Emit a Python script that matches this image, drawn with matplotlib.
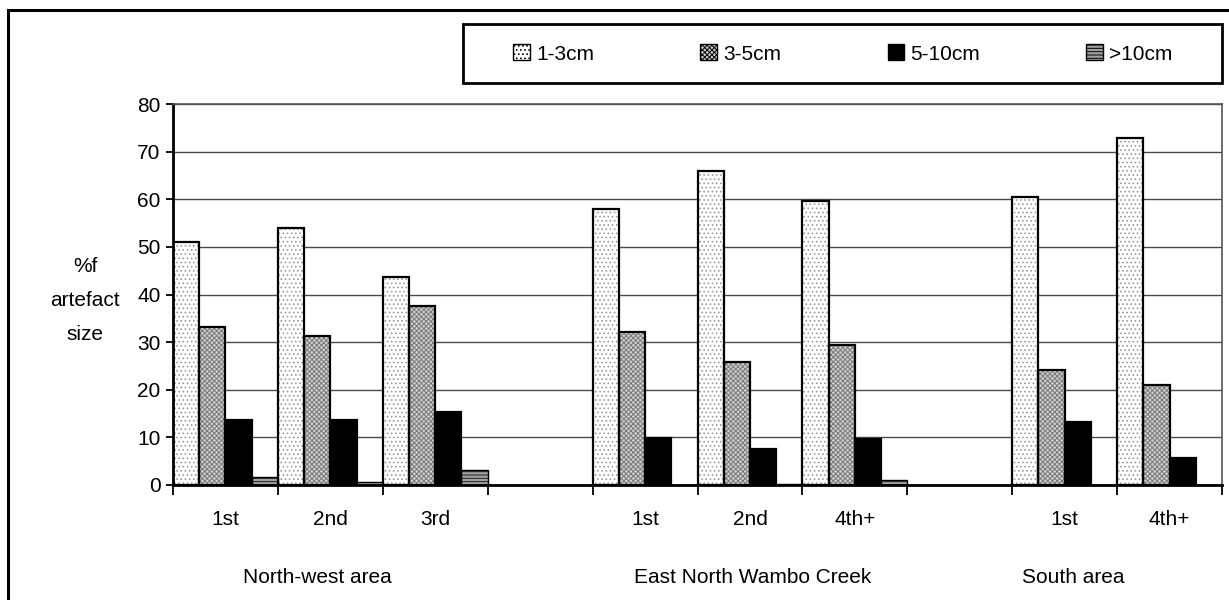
import matplotlib
matplotlib.use("Agg")
import matplotlib.pyplot as plt
from matplotlib.lines import Line2D
from matplotlib.patches import Patch, Rectangle
import numpy as np

plt.rcParams['font.family'] = ['Liberation Sans', 'DejaVu Sans']
plt.rcParams['hatch.linewidth'] = 0.7

# Survey areas and the collection rounds within each
groups = ["North-west area", "East North Wambo Creek", "South area"]
subcats = ["1st", "2nd", "3rd", "1st", "2nd", "4th+", "1st", "4th+"]
group_idx = [0, 0, 0, 1, 1, 1, 2, 2]

# Percentage of artefacts in each size class
series_names = ["1-3cm", "3-5cm", "5-10cm", ">10cm"]
size_1_3 = [51.0, 54.0, 43.6, 57.9, 66.0, 59.6, 60.5, 72.8]
size_3_5 = [33.2, 31.2, 37.5, 32.1, 25.8, 29.4, 24.1, 21.1]
size_5_10 = [13.6, 13.6, 15.4, 9.9, 7.6, 9.7, 13.2, 5.6]
size_10p = [1.7, 0.6, 3.1, 0.0, 0.3, 1.0, 0.0, 0.0]
series = [size_1_3, size_3_5, size_5_10, size_10p]

styles = [
    dict(face="white", hatch="....", hatch_col="#9a9a9a", edge_lw=1.6),
    dict(face="#cfcfcf", hatch="xxxxxxx", hatch_col="#7a7a7a", edge_lw=1.6),
    dict(face="black", hatch=None, hatch_col="black", edge_lw=1.6),
    dict(face="#a0a0a0", hatch="-----", hatch_col="#202020", edge_lw=1.0),
]

FS = 15

fig = plt.figure(figsize=(12.29, 6.0), dpi=100)
ax = fig.add_axes([173 / 1229, 1 - 485 / 600, (1222 - 173) / 1229, (485 - 104) / 600])

# one empty slot between area groups
slots = np.array([i + g for i, g in enumerate(group_idx)], dtype=float)
n_series = len(series)
bw = 1.0 / n_series

for j, (vals, st) in enumerate(zip(series, styles)):
    x = slots + j * bw
    # fill + pattern
    ax.bar(x, vals, width=bw, align="edge", color=st["face"],
           edgecolor=st["hatch_col"], hatch=st["hatch"], linewidth=0, zorder=2)
    # outline
    ax.bar(x, vals, width=bw, align="edge", fill=False,
           edgecolor="black", linewidth=st["edge_lw"], zorder=3)

n_slots = int(slots.max()) + 1
ax.set_xlim(0, n_slots)
ax.set_ylim(0, 80)
ax.set_yticks(np.arange(0, 81, 10))
ax.yaxis.grid(True, color="#4a4a4a", linewidth=1.0)
ax.set_axisbelow(True)

ax.set_xticks(np.arange(0, n_slots + 1))
ax.set_xticklabels([])
ax.set_xticks(slots + 0.5, minor=True)
ax.set_xticklabels(subcats, minor=True)
ax.tick_params(axis="x", which="major", direction="out", length=7, width=1.3, color="black")
ax.tick_params(axis="x", which="minor", length=0, pad=18, labelsize=FS)
ax.tick_params(axis="y", direction="out", length=5, width=1.3, labelsize=FS, pad=4)

for s in ["left", "bottom"]:
    ax.spines[s].set_linewidth(2.0)
    ax.spines[s].set_color("black")
for s in ["top", "right"]:
    ax.spines[s].set_linewidth(1.2)
    ax.spines[s].set_color("#555555")

# area names under the round labels
group_x = [1.38, 5.53, 8.58]
for name, gx in zip(groups, group_x):
    ax.text(gx, -19.4, name, ha="center", va="center", fontsize=FS,
            transform=ax.transData, clip_on=False)

fig.text(85 / 1229, 1 - 300 / 600, "%f\nartefact\nsize", ha="center", va="center",
         fontsize=FS, linespacing=2.0)

# legend frame
fig.add_artist(Rectangle((463 / 1229, 1 - 83 / 600), (1222 - 463) / 1229, (83 - 24) / 600,
                         transform=fig.transFigure, facecolor="white", edgecolor="black",
                         linewidth=2.0, zorder=1))
handles = [Patch(facecolor=st["face"], edgecolor="black", hatch=st["hatch"], linewidth=1.0)
           for st in styles]
leg = fig.legend(handles, series_names, ncol=4, loc="center",
                 bbox_to_anchor=(843 / 1229, 1 - 54 / 600),
                 fontsize=FS, frameon=False,
                 handlelength=0.8, handleheight=0.8, handletextpad=0.3,
                 borderaxespad=0, borderpad=0, columnspacing=5.1)
leg.set_zorder(2)

# outer chart frame
fig.add_artist(Line2D([8 / 1229, 8 / 1229], [0, 1 - 10 / 600], transform=fig.transFigure,
                      color="black", linewidth=2.2, solid_capstyle="projecting"))
fig.add_artist(Line2D([8 / 1229, 1.0], [1 - 10 / 600, 1 - 10 / 600], transform=fig.transFigure,
                      color="black", linewidth=2.2, solid_capstyle="projecting"))

fig.savefig("out.png", dpi=100, facecolor="white")
